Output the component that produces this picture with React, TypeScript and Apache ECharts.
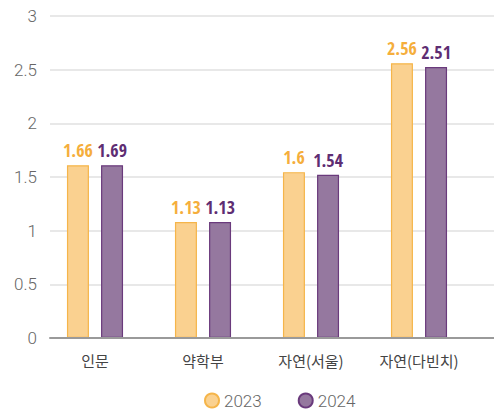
import React, { useEffect, useRef } from "react";
import * as echarts from "echarts";

const categories = ["인문", "약학부", "자연(서울)", "자연(다빈치)"];
const seriesNames = ["2023", "2024"];
// bar heights as drawn in the picture
const bars2023 = [1.61, 1.08, 1.545, 2.56];
const bars2024 = [1.61, 1.08, 1.52, 2.525];
// value labels as printed
const labels2023 = ["1.66", "1.13", "1.6", "2.56"];
const labels2024 = ["1.69", "1.13", "1.54", "2.51"];
const yTicks = [0, 0.5, 1, 1.5, 2, 2.5, 3];

const labelFont = "'Open Sans Condensed', 'Roboto Condensed', sans-serif";

export default function App() {
  const ref = useRef<HTMLDivElement>(null);
  useEffect(() => {
    if (!ref.current) return;
    const chart = echarts.init(ref.current, null, { renderer: "svg" });
    const yMin = yTicks[0];
    const yMax = yTicks[yTicks.length - 1];
    chart.setOption({
      animation: false,
      legend: {
        data: seriesNames,
        left: 204,
        top: 392,
        padding: 0,
        icon: "circle",
        itemWidth: 14,
        itemHeight: 14,
        itemGap: 36,
        textStyle: { color: "#666", fontSize: 17, fontFamily: "Roboto", fontWeight: 300 },
      },
      grid: [
        { left: 41, width: 432, top: 16, bottom: 74 },
        { left: 50, right: 0, top: 16, bottom: 74 },
      ],
      xAxis: [
        {
          gridIndex: 0,
          type: "category",
          data: categories,
          axisLine: { show: false },
          axisTick: { show: false },
          axisLabel: {
            color: "#444",
            fontSize: 15,
            margin: 15,
            fontFamily: "'Noto Sans CJK KR', sans-serif",
          },
        },
        {
          gridIndex: 1,
          type: "value",
          min: 0,
          max: 1,
          z: 5,
          axisLine: { show: true, lineStyle: { color: "#9a9a9a", width: 2 } },
          axisTick: { show: false },
          axisLabel: { show: false },
          splitLine: { show: false },
        },
      ],
      yAxis: [
        { gridIndex: 0, type: "value", min: yMin, max: yMax, show: false },
        {
          gridIndex: 1,
          type: "value",
          min: yMin,
          max: yMax,
          interval: 0.5,
          axisLine: { show: false },
          axisTick: { show: false },
          axisLabel: {
            color: "#666",
            fontSize: 17,
            margin: 13,
            fontFamily: "Roboto",
            fontWeight: 300,
          },
          splitLine: { lineStyle: { color: "#e0e0e0", width: 1.5 } },
        },
      ],
      series: [
        {
          name: seriesNames[0],
          type: "bar",
          xAxisIndex: 0,
          yAxisIndex: 0,
          data: bars2023,
          barWidth: 22,
          barGap: "55%",
          itemStyle: { color: "#FAD190", borderColor: "#F5B54A", borderWidth: 1.2 },
          label: {
            show: true,
            position: "top",
            distance: 6,
            formatter: (p: any) => labels2023[p.dataIndex],
            color: "#F5AE3C",
            fontSize: 18,
            fontWeight: "bold",
            fontFamily: labelFont,
          },
        },
        {
          name: seriesNames[1],
          type: "bar",
          xAxisIndex: 0,
          yAxisIndex: 0,
          data: bars2024,
          barWidth: 22,
          itemStyle: { color: "#95789F", borderColor: "#6A3A7C", borderWidth: 1.2 },
          label: {
            show: true,
            position: "top",
            distance: 6,
            formatter: (p: any) => labels2024[p.dataIndex],
            color: "#5E2D73",
            fontSize: 18,
            fontWeight: "bold",
            fontFamily: labelFont,
          },
        },
      ],
    });
    return () => chart.dispose();
  }, []);
  return (
    <div
      ref={ref}
      style={{ position: "absolute", left: 0, top: 0, width: 494, height: 412 }}
    />
  );
}
